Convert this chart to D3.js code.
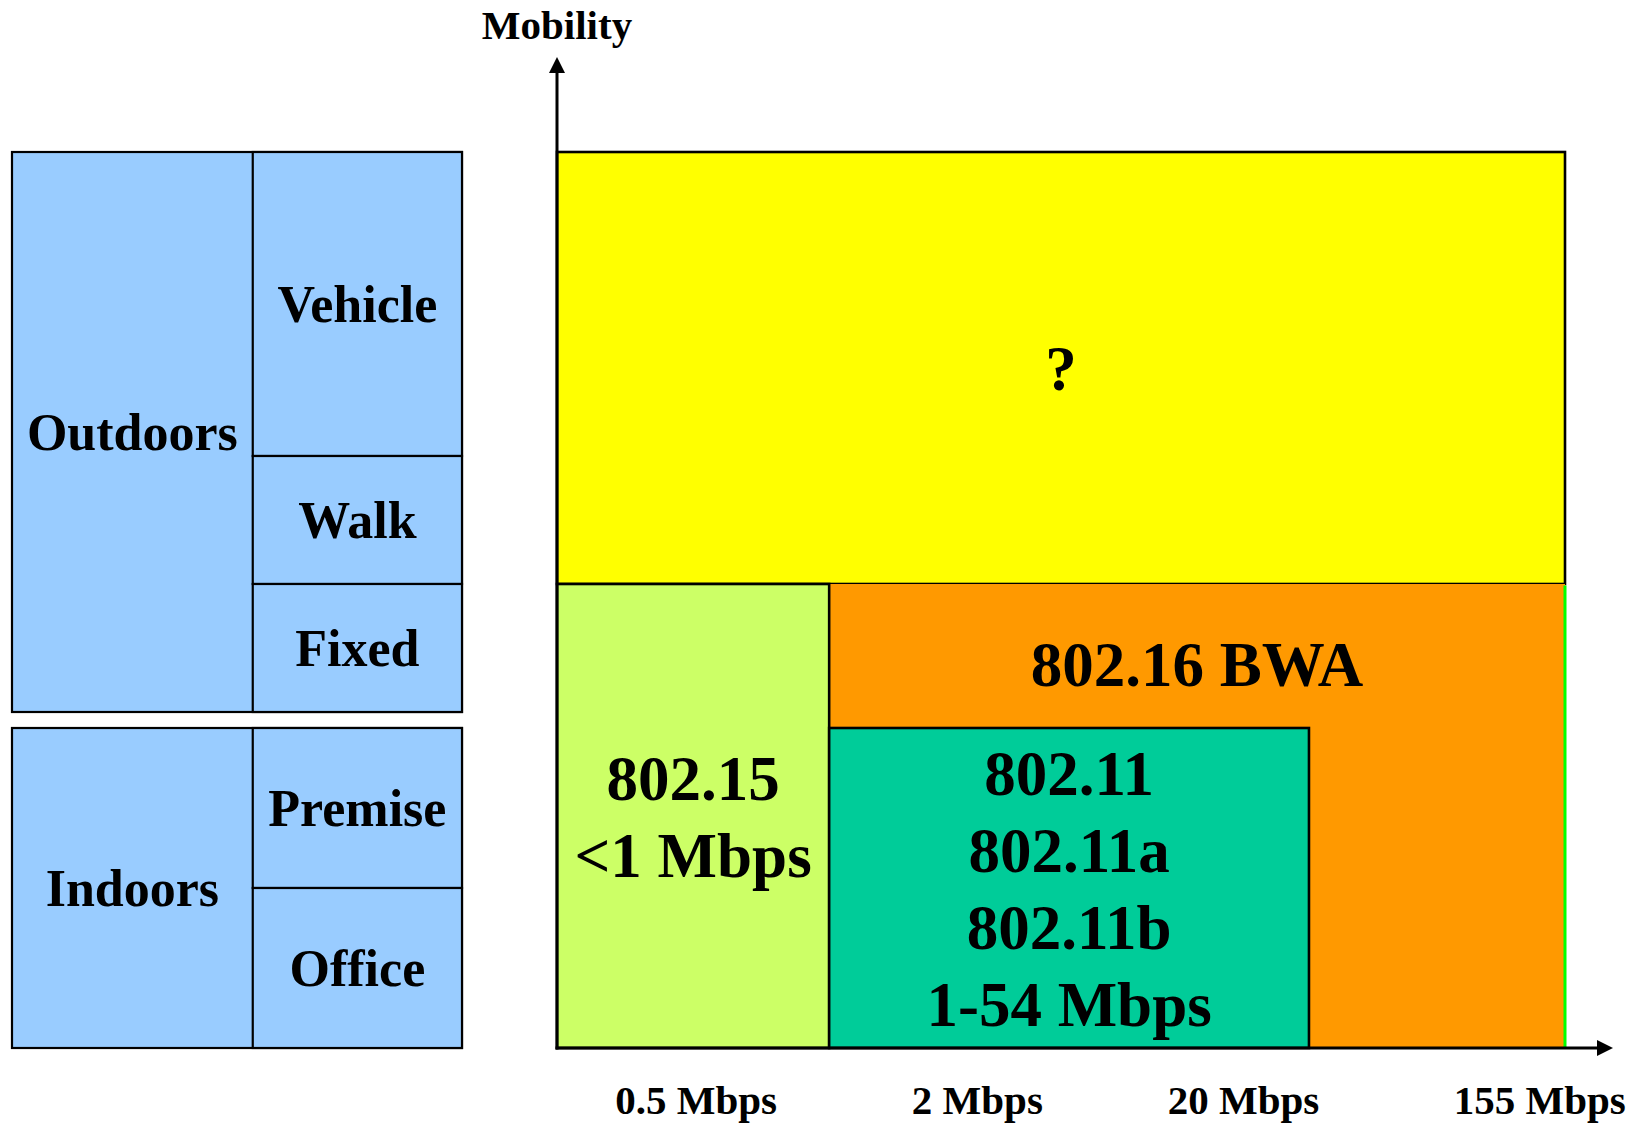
<!doctype html>
<html>
<head>
<meta charset="utf-8">
<script src="https://cdn.jsdelivr.net/npm/d3@7"></script>
<style>
body { margin: 0; background: #fff; }
text { font-family: "Liberation Serif", "Times New Roman", serif; font-weight: bold; fill: #000; }
</style>
</head>
<body>
<script>
// mobility bands (y units, 0 = office, 56 = top of vehicle)
var envNames = ["Outdoors", "Indoors"];
var envLow = [21, 0];
var envHigh = [56, 20];

var modeNames = ["Vehicle", "Walk", "Fixed", "Premise", "Office"];
var modeLow = [37, 29, 21, 10, 0];
var modeHigh = [56, 37, 29, 20, 10];

// technology regions: x = share of the rate axis (0-100), y = mobility units
var techLines = [["?"], ["802.16 BWA"], ["802.15", "<1 Mbps"], ["802.11", "802.11a", "802.11b", "1-54 Mbps"]];
var techX0 = [0, 27, 0, 27];
var techX1 = [100, 100, 27, 74.6];
var techY0 = [29, 0, 0, 0];
var techY1 = [56, 29, 29, 20];
var techLabelAt = [42.5, 24, 14.5, 10];
var techColors = ["#ffff00", "#ff9900", "#ccff66", "#00cc99"];

// rate labels under the x axis
var rateLabels = ["0.5 Mbps", "2 Mbps", "20 Mbps", "155 Mbps"];
var ratePos = [13.8, 41.7, 68.1, 97.5];

var width = 1637, height = 1124;

var svg = d3.select("body").append("svg")
    .attr("width", width)
    .attr("height", height);

// shared mobility scale
var y = d3.scaleLinear().domain([0, 56]).range([1048, 152]);
// left table columns
var lx = d3.scaleLinear().domain([0, 100]).range([12, 462]);
var colSplit = 53.5;
// rate axis
var x = d3.scaleLinear().domain([0, 100]).range([557, 1565]);

// ---- left table
var left = svg.append("g");

left.selectAll("rect.env")
    .data(envNames)
  .enter().append("rect")
    .attr("class", "env")
    .attr("x", lx(0))
    .attr("y", function(d, i) { return y(envHigh[i]); })
    .attr("width", lx(100) - lx(0))
    .attr("height", function(d, i) { return y(envLow[i]) - y(envHigh[i]); })
    .attr("fill", "#99ccff")
    .attr("stroke", "#000")
    .attr("stroke-width", 2.2);

left.selectAll("rect.mode")
    .data(modeNames)
  .enter().append("rect")
    .attr("class", "mode")
    .attr("x", lx(colSplit))
    .attr("y", function(d, i) { return y(modeHigh[i]); })
    .attr("width", lx(100) - lx(colSplit))
    .attr("height", function(d, i) { return y(modeLow[i]) - y(modeHigh[i]); })
    .attr("fill", "#99ccff")
    .attr("stroke", "#000")
    .attr("stroke-width", 2.2);

left.selectAll("text.env")
    .data(envNames)
  .enter().append("text")
    .attr("class", "env")
    .attr("x", (lx(0) + lx(colSplit)) / 2)
    .attr("y", function(d, i) { return y((envLow[i] + envHigh[i]) / 2) + 52 * 0.35; })
    .attr("text-anchor", "middle")
    .attr("font-size", "52px")
    .text(function(d) { return d; });

left.selectAll("text.mode")
    .data(modeNames)
  .enter().append("text")
    .attr("class", "mode")
    .attr("x", (lx(colSplit) + lx(100)) / 2)
    .attr("y", function(d, i) { return y((modeLow[i] + modeHigh[i]) / 2) + 52 * 0.35; })
    .attr("text-anchor", "middle")
    .attr("font-size", "52px")
    .text(function(d) { return d; });

// ---- technology regions
var main = svg.append("g");

main.selectAll("rect.tech")
    .data(techLines)
  .enter().append("rect")
    .attr("class", "tech")
    .attr("x", function(d, i) { return x(techX0[i]); })
    .attr("y", function(d, i) { return y(techY1[i]); })
    .attr("width", function(d, i) { return x(techX1[i]) - x(techX0[i]); })
    .attr("height", function(d, i) { return y(techY0[i]) - y(techY1[i]); })
    .attr("fill", function(d, i) { return techColors[i]; })
    .attr("stroke", function(d, i) { return i == 1 ? "none" : "#000"; })
    .attr("stroke-width", 2.6);

// green right edge of the 802.16 block
main.append("line")
    .attr("x1", x(techX1[1])).attr("x2", x(techX1[1]))
    .attr("y1", y(techY1[1]) + 1.5).attr("y2", y(techY0[1]))
    .attr("stroke", "#00ff00")
    .attr("stroke-width", 3);

var lineGap = 77;
main.selectAll("text.tech")
    .data(techLines)
  .enter().append("text")
    .attr("class", "tech")
    .attr("text-anchor", "middle")
    .attr("font-size", "63px")
    .each(function(d, i) {
      var cx = (x(techX0[i]) + x(techX1[i])) / 2,
          cy = y(techLabelAt[i]) + 63 * 0.35;
      d3.select(this).selectAll("tspan")
          .data(d)
        .enter().append("tspan")
          .attr("x", cx)
          .attr("y", function(s, k) { return cy + (k - (d.length - 1) / 2) * lineGap; })
          .text(function(s) { return s; });
    });

// ---- axes with arrow heads
var ax = svg.append("g");
var x0 = x.range()[0], xEnd = x.range()[1] + 48,
    yBase = y.range()[0], yTop = y.range()[1] - 95;

ax.append("line")
    .attr("x1", x0).attr("x2", x0)
    .attr("y1", yBase + 1.5).attr("y2", yTop + 14)
    .attr("stroke", "#000").attr("stroke-width", 3);
ax.append("path")
    .attr("d", "M" + x0 + "," + yTop + "L" + (x0 - 8) + "," + (yTop + 16) + "L" + (x0 + 8) + "," + (yTop + 16) + "Z")
    .attr("fill", "#000");

ax.append("line")
    .attr("x1", x0 - 1.5).attr("x2", xEnd - 14)
    .attr("y1", yBase).attr("y2", yBase)
    .attr("stroke", "#000").attr("stroke-width", 3);
ax.append("path")
    .attr("d", "M" + xEnd + "," + yBase + "L" + (xEnd - 16) + "," + (yBase - 8) + "L" + (xEnd - 16) + "," + (yBase + 8) + "Z")
    .attr("fill", "#000");

ax.append("text")
    .attr("x", x0)
    .attr("y", 39)
    .attr("text-anchor", "middle")
    .attr("font-size", "41px")
    .text("Mobility");

ax.selectAll("text.rate")
    .data(rateLabels)
  .enter().append("text")
    .attr("class", "rate")
    .attr("x", function(d, i) { return x(ratePos[i]); })
    .attr("y", 1114)
    .attr("text-anchor", "middle")
    .attr("font-size", "41px")
    .text(function(d) { return d; });
</script>
</body>
</html>
